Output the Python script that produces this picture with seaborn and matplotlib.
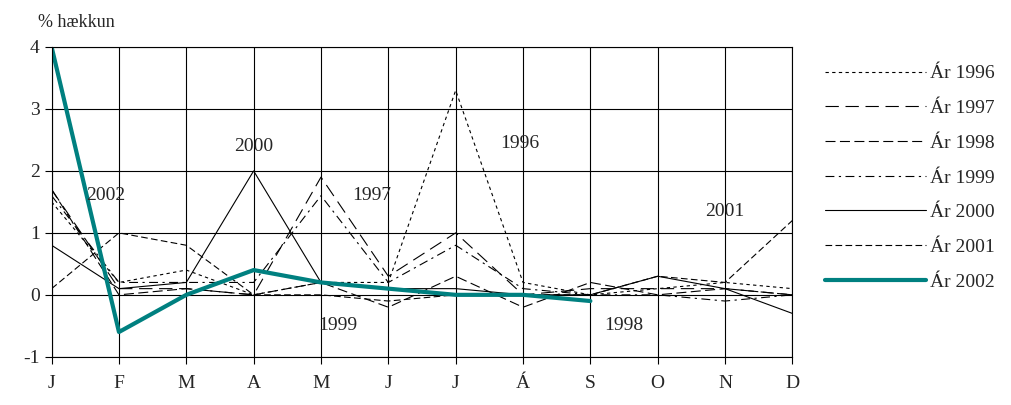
import numpy as np
import pandas as pd
import seaborn as sns
import matplotlib.pyplot as plt

months = ["J", "F", "M", "A", "M", "J", "J", "Á", "S", "O", "N", "D"]
y1996 = [1.5, 0.2, 0.4, 0.0, 0.2, 0.2, 3.3, 0.2, 0.0, 0.1, 0.2, 0.1]
y1997 = [1.7, 0.1, 0.1, 0.0, 1.9, 0.3, 1.0, 0.0, 0.1, 0.1, 0.1, 0.0]
y1998 = [1.7, 0.0, 0.1, 0.0, 0.2, -0.2, 0.3, -0.2, 0.2, 0.0, 0.1, 0.0]
y1999 = [1.6, 0.2, 0.2, 0.2, 1.6, 0.2, 0.8, 0.1, 0.0, 0.0, -0.1, 0.0]
y2000 = [0.8, 0.1, 0.2, 2.0, 0.2, 0.1, 0.1, 0.0, 0.0, 0.3, 0.1, -0.3]
y2001 = [0.1, 1.0, 0.8, 0.0, 0.0, -0.1, 0.0, 0.0, 0.0, 0.3, 0.2, 1.2]
y2002 = [4.0, -0.6, 0.0, 0.4, 0.2, 0.1, 0.0, 0.0, -0.1]

series = {"Ár 1996": y1996, "Ár 1997": y1997, "Ár 1998": y1998, "Ár 1999": y1999,
          "Ár 2000": y2000, "Ár 2001": y2001, "Ár 2002": y2002}
styles = {"Ár 1996": dict(ls=(0, (3, 3)), lw=0.8, color="black"),
          "Ár 1997": dict(ls=(0, (12, 6)), lw=0.8, color="black"),
          "Ár 1998": dict(ls=(0, (9, 4)), lw=0.8, color="black"),
          "Ár 1999": dict(ls=(0, (8, 4, 2, 4)), lw=0.8, color="black"),
          "Ár 2000": dict(ls="-", lw=0.8, color="black"),
          "Ár 2001": dict(ls=(0, (6, 3)), lw=0.8, color="black"),
          "Ár 2002": dict(ls="-", lw=3, color="#008080")}

sns.set_style("white")
plt.rcParams["font.family"] = ["Liberation Serif", "DejaVu Serif"]
plt.rcParams["axes.unicode_minus"] = False

fig = plt.figure(figsize=(10.12, 4.05), dpi=100)
ax = fig.add_axes([0.051, 0.119, 0.732, 0.765])

for name, vals in series.items():
    df = pd.DataFrame({"x": np.arange(len(vals)), "y": vals})
    sns.lineplot(data=df, x="x", y="y", ax=ax, label=name, **styles[name])

ax.set_xlim(0, 11)
ax.set_ylim(-1, 4)
ax.set_xticks(range(12))
ax.set_xticklabels(months)
ax.set_yticks(range(-1, 5))
ax.grid(True, color="black", lw=0.8)
for s in ax.spines.values():
    s.set_color("black")
    s.set_linewidth(0.8)
ax.tick_params(labelsize=14, length=5, color="black", direction="out", bottom=True, left=True)
ax.tick_params(axis="x", pad=8)
ax.set_xlabel("")
ax.set_ylabel("")
ax.text(-0.2, 4.25, "% hækkun", fontsize=13, ha="left", va="bottom", transform=ax.transData, clip_on=False)

for txt, x, y in [("2002", 0.8, 1.6), ("2000", 3.0, 2.4), ("1997", 4.75, 1.6),
                  ("1996", 6.95, 2.45), ("1999", 4.25, -0.5), ("1998", 8.5, -0.5),
                  ("2001", 10.0, 1.35)]:
    ax.text(x, y, txt, fontsize=14, ha="center", va="center")

ax.legend_.remove()
h, l = ax.get_legend_handles_labels()
fig.legend(h, l, loc="upper left", bbox_to_anchor=(0.815, 0.84), frameon=False,
           fontsize=14, handlelength=5.2, labelspacing=0.88, handletextpad=0.2,
           borderpad=0, borderaxespad=0)

fig.savefig("out.png", dpi=100)
